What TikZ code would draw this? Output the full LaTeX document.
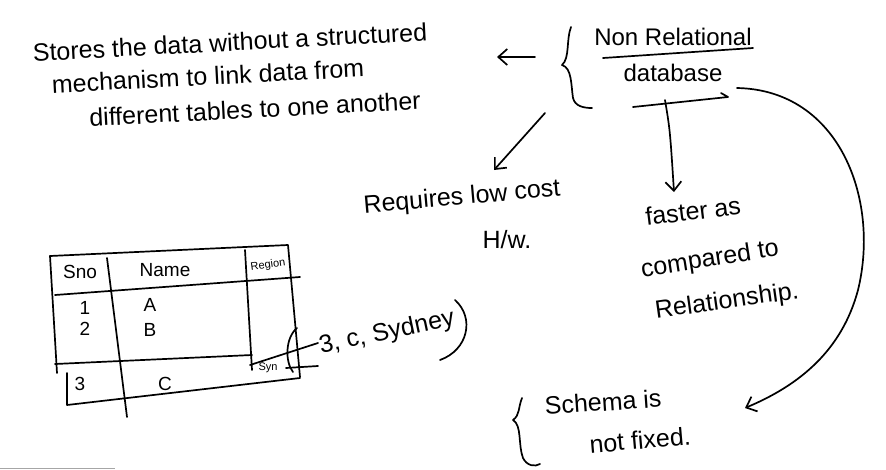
\documentclass[tikz,border=0pt]{standalone}
\usepackage{fontspec}
\setmainfont{Liberation Sans}
\usetikzlibrary{arrows.meta}
\begin{document}
\begin{tikzpicture}[x=1pt,y=-1pt,
  ink/.style={line width=1.7pt, line cap=round, line join=round, black},
  hw/.style={font=\fontsize{25}{28}\selectfont, inner sep=0pt},
  hwbig/.style={font=\fontsize{25}{30}\selectfont, inner sep=0pt},
  hwsmall/.style={font=\fontsize{19}{22}\selectfont, inner sep=0pt},
  hwtiny/.style={font=\fontsize{11}{13}\selectfont, inner sep=0pt},
  barb/.style={-{Straight Barb[length=9pt,width=16pt,line width=1.7pt]}}]
\useasboundingbox (0,0) rectangle (886,469);
\fill[white] (0,0) rectangle (886,469);
\draw[gray!70, line width=1pt] (0,468) -- (115,468);

% top-left description
\node[hwbig, rotate=3] (d1) at (230,42) {Stores the data without a structured};
\node[hwbig, rotate=3] (d2) at (208,76) {mechanism to link data from};
\node[hwbig, rotate=3] (d3) at (255,109) {different tables to one another};

% title
\node[font=\fontsize{24}{28}\selectfont, inner sep=0pt] (nr) at (673,37) {Non Relational};
\node[font=\fontsize{24}{28}\selectfont, inner sep=0pt] (db) at (673,73) {database};
\coordinate (ul1) at (603,58);
\coordinate (ul2) at (753,48);
\draw[ink] (ul1) -- (ul2);
\coordinate (ul3) at (633,107);
\coordinate (ul4) at (728,97);
\draw[ink] (ul3) -- (ul4) -- (721,93);

% brace
\draw[ink] (571,27) .. controls (566,40) and (570,58) .. (562,65)
  .. controls (572,68) and (571,85) .. (573,98) .. controls (575,106) and (583,108) .. (592,108);

% left arrow
\coordinate (la1) at (535,57);
\coordinate (la2) at (497,57);
\draw[ink, barb] (la1) -- (la2);

% diagonal arrow
\coordinate (da1) at (545,113);
\coordinate (da2) at (494,170);
\draw[ink, barb] (da1) -- (da2);

% down arrow
\coordinate (dn1) at (665,100);
\coordinate (dn2) at (674,192);
\draw[ink, barb] (dn1) .. controls (670,130) .. (dn2);

% big curve
\coordinate (bc1) at (737,88);
\coordinate (bc2) at (745,408);
\draw[ink, barb] (bc1) .. controls (840,90) and (880,200) .. (858,290)
  .. controls (842,350) and (800,385) .. (bc2);

% requires
\node[hw, rotate=5] (rq) at (462,198) {Requires low cost};
\node[hw] (hw) at (507,240) {H/w.};

% faster
\node[hw, rotate=7] (f1) at (693,211) {faster as};
\node[hw, rotate=9] (f2) at (710,260) {compared to};
\node[hw, rotate=8] (f3) at (727,302) {Relationship.};

% schema
\node[hw, rotate=4] (s1) at (603,402) {Schema is};
\node[hw, rotate=5] (s2) at (640,440) {not fixed.};
\draw[ink] (522,398) .. controls (518,408) and (520,415) .. (513,420)
  .. controls (522,425) and (518,445) .. (523,458) .. controls (527,466) and (535,467) .. (540,464);

% table
\draw[ink] (50,256) -- (288,245) -- (300,377);
\draw[ink] (50,256) -- (57,373);
\draw[ink] (55,295) -- (300,277);
\draw[ink] (107,258) -- (127,417);
\draw[ink] (245,250) -- (252,370);
\draw[ink] (55,364) -- (252,355);
\draw[ink] (67,373) -- (67,405) -- (300,378);
\draw[ink] (250,365) -- (318,343);
\draw[ink] (286,368) -- (318,366);
\node[hwsmall] (t1) at (80,272) {Sno};
\node[hwsmall] (t2) at (165,270) {Name};
\node[hwtiny, rotate=8] (t3) at (268,265) {Region};
\node[hwsmall] (t4) at (85,308) {1};
\node[hwsmall] (t5) at (150,305) {A};
\node[hwsmall] (t6) at (85,329) {2};
\node[hwsmall] (t7) at (150,330) {B};
\node[hwsmall] (t8) at (80,384) {3};
\node[hwsmall] (t9) at (165,384) {C};
\node[hwtiny] (t10) at (268,368) {Syn};

% tuple
\draw[ink] (297,328) .. controls (285,338) and (285,362) .. (293,372);
\node[hw, rotate=12] (tp) at (387,333) {3, c, Sydney};
\draw[ink] (455,300) .. controls (475,318) and (468,350) .. (440,360);
\end{tikzpicture}
\end{document}
